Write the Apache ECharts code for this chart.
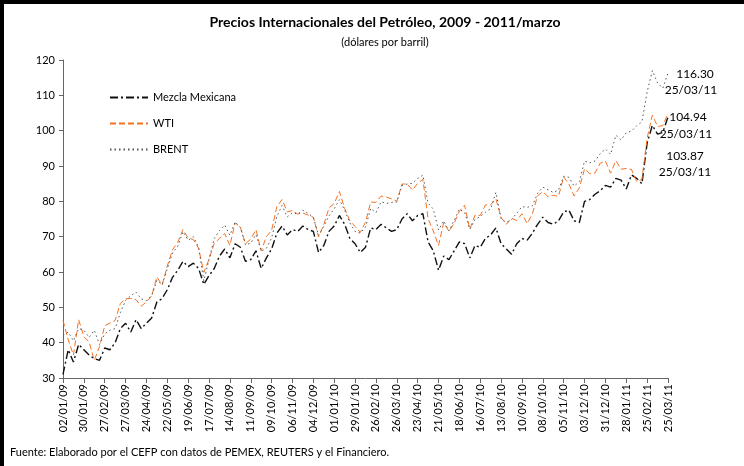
<!DOCTYPE html>
<html>
<head>
<meta charset="utf-8">
<script src="https://cdn.jsdelivr.net/npm/echarts@6/dist/echarts.min.js"></script>
<style>
  html, body { margin: 0; padding: 0; background: #fff; }
  #main { width: 744px; height: 466px; }
</style>
</head>
<body>
<div id="main"></div>
<script>
// semanas (viernes) 02/01/09 - 25/03/11
const fechas = [
  '02/01/09','09/01/09','16/01/09','23/01/09','30/01/09','06/02/09','13/02/09','20/02/09','27/02/09','06/03/09','13/03/09','20/03/09','27/03/09',
  '03/04/09','10/04/09','17/04/09','24/04/09','01/05/09','08/05/09','15/05/09','22/05/09','29/05/09','05/06/09','12/06/09','19/06/09','26/06/09',
  '03/07/09','10/07/09','17/07/09','24/07/09','31/07/09','07/08/09','14/08/09','21/08/09','28/08/09','04/09/09','11/09/09','18/09/09','25/09/09',
  '02/10/09','09/10/09','16/10/09','23/10/09','30/10/09','06/11/09','13/11/09','20/11/09','27/11/09','04/12/09','11/12/09','18/12/09','25/12/09',
  '01/01/10','08/01/10','15/01/10','22/01/10','29/01/10','05/02/10','12/02/10','19/02/10','26/02/10','05/03/10','12/03/10','19/03/10','26/03/10',
  '02/04/10','09/04/10','16/04/10','23/04/10','30/04/10','07/05/10','14/05/10','21/05/10','28/05/10','04/06/10','11/06/10','18/06/10','25/06/10',
  '02/07/10','09/07/10','16/07/10','23/07/10','30/07/10','06/08/10','13/08/10','20/08/10','27/08/10','03/09/10','10/09/10','17/09/10','24/09/10',
  '01/10/10','08/10/10','15/10/10','22/10/10','29/10/10','05/11/10','12/11/10','19/11/10','26/11/10','03/12/10','10/12/10','17/12/10','24/12/10','31/12/10',
  '07/01/11','14/01/11','21/01/11','28/01/11','04/02/11','11/02/11','18/02/11','25/02/11','04/03/11','11/03/11','18/03/11','25/03/11'
];

const mezcla = [
  31.0, 38.0, 34.5, 39.5, 38.0, 36.5, 35.5, 35.0, 38.5, 38.0, 40.0, 44.0, 45.5, 43.0, 46.5, 44.0, 45.5, 47.0, 51.5, 52.5, 55.0, 58.5, 60.5, 63.0, 61.5, 62.5,
  61.0, 56.5, 59.0, 61.0, 64.5, 66.5, 64.0, 68.0, 67.0, 63.0, 63.5, 66.0, 61.0, 64.0, 66.5, 71.0, 73.0, 70.5, 72.0, 71.5, 73.0, 72.0, 71.5, 65.5, 67.5, 71.5,
  73.0, 76.0, 73.5, 69.5, 68.0, 65.5, 67.0, 72.5, 72.0, 73.5, 72.5, 71.5, 72.0, 75.0, 76.5, 74.5, 76.0, 76.5, 68.5, 66.0, 60.5, 64.5, 63.5, 66.0, 68.5,
  68.0, 64.0, 67.5, 67.0, 69.5, 70.5, 72.5, 68.0, 66.5, 65.0, 68.0, 69.5, 69.0, 71.0, 73.5, 75.5, 74.0, 73.5, 74.5, 77.0, 77.5, 74.5, 74.0, 80.0, 80.5,
  82.0, 83.0, 84.5,
  84.0, 86.5, 86.0, 83.5, 87.5, 86.5, 85.0, 96.5, 101.5, 99.0, 99.5, 103.87
];

const wti = [
  46.3, 40.8, 36.5, 46.5, 41.7, 40.2, 35.0, 38.9, 44.8, 45.5, 46.3, 51.1, 52.4, 52.5, 52.2, 50.3, 51.6, 53.2, 58.6, 56.3, 61.7, 66.3, 68.4, 72.0, 69.6, 69.2,
  66.7, 59.9, 63.6, 68.1, 69.5, 70.9, 67.5, 73.9, 72.7, 68.0, 69.3, 72.0, 66.0, 70.0, 71.8, 78.5, 80.5, 77.0, 77.4, 76.4, 76.7, 76.1, 75.5, 69.9, 73.4, 78.1,
  79.4, 82.8, 78.0, 74.5, 72.9, 71.2, 74.1, 79.8, 79.7, 81.5, 81.2, 80.7, 80.0, 84.9, 84.9, 83.2, 85.1, 86.2, 75.1, 71.6, 67.5, 74.0, 71.5, 73.8, 77.2,
  78.9, 72.1, 76.1, 76.0, 79.0, 79.0, 80.7, 75.4, 73.5, 75.2, 74.6, 76.5, 73.7, 76.5, 81.6, 82.7, 81.3, 81.7, 81.4, 86.9, 84.9, 81.5, 83.8, 89.2, 87.8,
  88.0, 90.8, 91.4,
  88.0, 91.5, 89.1, 89.3, 89.0, 85.6, 86.2, 97.9, 104.4, 101.2, 101.4, 104.94
];

const brent = [
  42.0, 43.0, 40.5, 44.0, 43.5, 41.5, 43.5, 39.5, 42.5, 43.5, 44.0, 48.5, 52.0, 53.3, 54.3, 52.4, 51.9, 53.3, 57.6, 56.4, 60.9, 65.4, 67.3, 71.4, 69.0, 70.0,
  67.0, 57.5, 63.6, 69.5, 71.7, 73.3, 70.4, 74.2, 72.6, 67.6, 68.2, 70.6, 65.9, 66.7, 69.6, 75.7, 78.8, 75.6, 76.8, 76.4, 77.5, 76.6, 75.4, 70.4, 72.9, 75.9,
  77.9, 80.5, 77.5, 73.9, 71.5, 71.0, 72.7, 78.0, 76.8, 79.9, 79.4, 79.7, 79.8, 84.5, 84.9, 85.1, 86.5, 87.4, 79.5, 77.8, 71.9, 74.5, 71.6, 74.6, 77.8,
  76.9, 72.1, 74.9, 75.7, 76.9, 77.9, 82.5, 75.1, 74.0, 74.9, 76.6, 78.5, 78.3, 78.7, 82.3, 84.0, 83.3, 82.5, 83.2, 87.1, 86.8, 84.3, 85.6, 91.4, 90.9,
  91.4, 93.5, 94.8,
  93.3, 98.7, 97.4, 99.4, 99.9, 101.4, 102.5, 111.0, 117.0, 113.5, 112.0, 116.30
];

const yTicks = [30, 40, 50, 60, 70, 80, 90, 100, 110, 120];

const fuente = 'Lato, "Open Sans", sans-serif';
const ultimo = fechas[fechas.length - 1];
const fin = arr => arr[arr.length - 1].toFixed(2);

const chart = echarts.init(document.getElementById('main'));

chart.setOption({
  animation: false,
  textStyle: { fontFamily: fuente, color: '#000' },
  grid: { left: 63, right: 76, top: 60, bottom: 88 },
  legend: {
    orient: 'vertical',
    left: 104,
    top: 87,
    itemWidth: 38,
    itemHeight: 12,
    itemGap: 15,
    itemStyle: { opacity: 0 },
    textStyle: { fontSize: 11, color: '#000', fontFamily: fuente },
    data: ['Mezcla Mexicana', 'WTI', 'BRENT']
  },
  xAxis: {
    type: 'category',
    data: fechas,
    boundaryGap: false,
    axisLine: { lineStyle: { color: '#666' } },
    axisTick: { interval: 3, length: 5, lineStyle: { color: '#666' } },
    axisLabel: { interval: 3, rotate: 90, fontSize: 11, color: '#000', margin: 6, fontFamily: fuente }
  },
  yAxis: {
    type: 'value',
    min: yTicks[0],
    max: yTicks[yTicks.length - 1],
    interval: 10,
    splitLine: { show: false },
    axisLine: { show: true, lineStyle: { color: '#666' } },
    axisTick: { show: true, length: 4, lineStyle: { color: '#666' } },
    axisLabel: { fontSize: 11, color: '#000', margin: 8, fontFamily: fuente }
  },
  series: [
    {
      name: 'Mezcla Mexicana',
      type: 'line',
      data: mezcla,
      symbol: 'none',
      itemStyle: { color: '#000' },
      lineStyle: { color: '#111', width: 1.4, type: [8, 3, 2, 3] }
    },
    {
      name: 'WTI',
      type: 'line',
      data: wti,
      symbol: 'none',
      itemStyle: { color: '#f5701f' },
      lineStyle: { color: '#f5701f', width: 1, type: [6, 3] }
    },
    {
      name: 'BRENT',
      type: 'line',
      data: brent,
      symbol: 'none',
      itemStyle: { color: '#555' },
      lineStyle: { color: '#555', width: 1, type: [1.5, 3] }
    }
  ],
  graphic: [
    { type: 'rect', left: 0, top: 0, shape: { width: 744, height: 4 }, style: { fill: '#000' } },
    { type: 'rect', left: 0, top: 0, shape: { width: 4, height: 466 }, style: { fill: '#000' } },
    {
      type: 'text', x: 385, y: 22,
      style: { text: 'Precios Internacionales del Petróleo, 2009 - 2011/marzo', font: 'bold 14px ' + fuente, fill: '#000', align: 'center', verticalAlign: 'middle' }
    },
    {
      type: 'text', x: 385, y: 42,
      style: { text: '(dólares por barril)', font: '11px ' + fuente, fill: '#000', align: 'center', verticalAlign: 'middle' }
    },
    { type: 'text', x: 695, y: 74, style: { text: fin(brent), font: '12px ' + fuente, fill: '#000', align: 'center', verticalAlign: 'middle' } },
    { type: 'text', x: 691, y: 90, style: { text: ultimo, font: '12px ' + fuente, fill: '#000', align: 'center', verticalAlign: 'middle' } },
    { type: 'text', x: 688, y: 117, style: { text: fin(wti), font: '12px ' + fuente, fill: '#000', align: 'center', verticalAlign: 'middle' } },
    { type: 'text', x: 686, y: 134, style: { text: ultimo, font: '12px ' + fuente, fill: '#000', align: 'center', verticalAlign: 'middle' } },
    { type: 'text', x: 685, y: 156, style: { text: fin(mezcla), font: '12px ' + fuente, fill: '#000', align: 'center', verticalAlign: 'middle' } },
    { type: 'text', x: 685, y: 172, style: { text: ultimo, font: '12px ' + fuente, fill: '#000', align: 'center', verticalAlign: 'middle' } },
    {
      type: 'text', x: 10, y: 452,
      style: { text: 'Fuente: Elaborado por el CEFP con datos de PEMEX, REUTERS y el Financiero.', font: '11px ' + fuente, fill: '#000', align: 'left', verticalAlign: 'middle' }
    }
  ]
});
</script>
</body>
</html>
